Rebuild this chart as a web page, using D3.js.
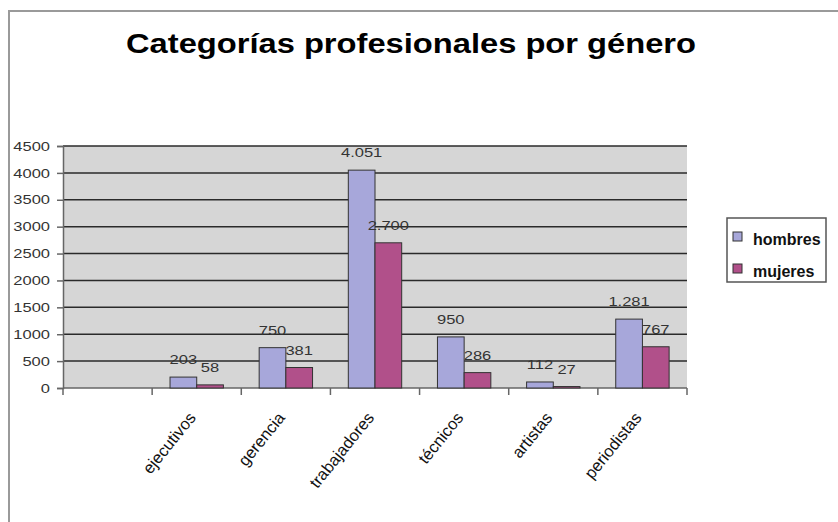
<!DOCTYPE html>
<html>
<head>
<meta charset="utf-8">
<script src="https://cdn.jsdelivr.net/npm/d3@7"></script>
<style>
body { margin: 0; background: #fff; }
text { font-family: Arial, "Liberation Sans", sans-serif; }
</style>
</head>
<body>
<div id="chart"></div>
<script>
// data (first slot is empty in the original)
var categories = ["", "ejecutivos", "gerencia", "trabajadores", "técnicos", "artistas", "periodistas"];
var seriesNames = ["hombres", "mujeres"];
var hombres = [null, 203, 750, 4051, 950, 112, 1281];
var mujeres = [null, 58, 381, 2700, 286, 27, 767];
var yTicks = [0, 500, 1000, 1500, 2000, 2500, 3000, 3500, 4000, 4500];
var colors = {hombres: "#a7a7da", mujeres: "#b1508a"};

var W = 838, H = 522;
var margin = {top: 146, left: 63, right: 151, bottom: 134};

var esLocale = d3.formatLocale({decimal: ",", thousands: ".", grouping: [3], currency: ["", " €"]});
var fmt = esLocale.format(",d");

// stretch text horizontally to match the (wide) look of the original
function stretch(sel, k) {
    sel.each(function () {
        var w = this.getComputedTextLength();
        d3.select(this).attr("textLength", w * k).attr("lengthAdjust", "spacingAndGlyphs");
    });
}

var svg = d3.select("#chart")
        .append("svg")
        .attr("width", W)
        .attr("height", H);

// outer frame (only top and left visible)
svg.append("path")
        .attr("d", "M9," + H + "V11H" + W)
        .attr("fill", "none")
        .attr("stroke", "#9a9a9a")
        .attr("stroke-width", 2);

// title
svg.append("text")
        .attr("x", 126)
        .attr("y", 53)
        .attr("font-size", 28)
        .attr("font-weight", "bold")
        .attr("fill", "#000")
        .attr("textLength", 570)
        .attr("lengthAdjust", "spacingAndGlyphs")
        .text("Categorías profesionales por género");

var x0 = d3.scaleBand()
        .domain(categories)
        .range([margin.left, W - margin.right]);

var x1 = d3.scaleBand()
        .domain(seriesNames)
        .range([0, x0.bandwidth()])
        .paddingOuter(0.67);

var y = d3.scaleLinear()
        .domain([0, 4500])
        .range([H - margin.bottom, margin.top]);

// plot background
svg.append("rect")
        .attr("x", margin.left)
        .attr("y", y(4500))
        .attr("width", W - margin.right - margin.left)
        .attr("height", y(0) - y(4500))
        .attr("fill", "#d6d6d6");

// grid lines
svg.selectAll(".grid")
        .data(yTicks.filter(function (d) { return d > 0; }))
        .enter()
        .append("line")
        .attr("x1", margin.left)
        .attr("x2", W - margin.right)
        .attr("y1", function (d) { return y(d); })
        .attr("y2", function (d) { return y(d); })
        .attr("stroke", "#2a2a2a")
        .attr("stroke-width", 1.5);

// y axis
var yAxis = svg.append("g")
        .attr("transform", "translate(" + margin.left + ",0)")
        .call(d3.axisLeft(y).tickValues(yTicks).tickSize(6).tickPadding(7).tickFormat(d3.format("d")));
yAxis.select(".domain").attr("stroke", "#666").attr("stroke-width", 1.5);
yAxis.selectAll(".tick line").attr("stroke", "#666").attr("stroke-width", 1.5);
yAxis.selectAll(".tick text")
        .attr("font-size", 13)
        .attr("fill", "#333")
        .call(stretch, 1.27);

// x axis: ticks between categories
var bounds = categories.map(function (c) { return x0(c); }).concat([W - margin.right]);
var xAxis = svg.append("g")
        .attr("transform", "translate(0," + y(0) + ")");
xAxis.append("line")
        .attr("x1", margin.left)
        .attr("x2", W - margin.right)
        .attr("stroke", "#666")
        .attr("stroke-width", 1.5);
xAxis.selectAll(".xtick")
        .data(bounds)
        .enter()
        .append("line")
        .attr("x1", function (d) { return d; })
        .attr("x2", function (d) { return d; })
        .attr("y1", 0)
        .attr("y2", 7)
        .attr("stroke", "#666")
        .attr("stroke-width", 1.5);

// category labels, rotated, ending under the middle of each category
var named = categories.filter(function (c) { return c !== ""; });
svg.selectAll(".catlabel")
        .data(named)
        .enter()
        .append("text")
        .attr("transform", function (d) {
            return "translate(" + (x0(d) + x0.bandwidth() / 2) + ",418) rotate(-51)";
        })
        .attr("text-anchor", "end")
        .attr("font-size", 16.5)
        .attr("fill", "#111")
        .text(function (d) { return d; });

// bars
var rows = categories.map(function (c, i) {
    return {cat: c, values: [{key: "hombres", value: hombres[i]}, {key: "mujeres", value: mujeres[i]}]};
}).filter(function (r) { return r.cat !== ""; });

var groups = svg.selectAll(".group")
        .data(rows)
        .enter()
        .append("g")
        .attr("transform", function (d) { return "translate(" + x0(d.cat) + ",0)"; });

groups.selectAll("rect")
        .data(function (d) { return d.values; })
        .enter()
        .append("rect")
        .attr("x", function (d) { return x1(d.key); })
        .attr("y", function (d) { return y(d.value); })
        .attr("width", x1.bandwidth())
        .attr("height", function (d) { return y(0) - y(d.value); })
        .attr("fill", function (d) { return colors[d.key]; })
        .attr("stroke", "#333")
        .attr("stroke-width", 1);

groups.selectAll(".val")
        .data(function (d) { return d.values; })
        .enter()
        .append("text")
        .attr("x", function (d) { return x1(d.key) + x1.bandwidth() / 2; })
        .attr("y", function (d) { return y(d.value) - 13; })
        .attr("text-anchor", "middle")
        .attr("font-size", 13)
        .attr("fill", "#333")
        .text(function (d) { return fmt(d.value); })
        .call(stretch, 1.27);

// legend
var legend = svg.append("g");
legend.append("rect")
        .attr("x", 727)
        .attr("y", 218)
        .attr("width", 99)
        .attr("height", 64)
        .attr("fill", "#fff")
        .attr("stroke", "#555")
        .attr("stroke-width", 1.5);

var items = legend.selectAll(".item")
        .data(seriesNames)
        .enter()
        .append("g")
        .attr("transform", function (d, i) { return "translate(733," + (232 + i * 32) + ")"; });
items.append("rect")
        .attr("width", 9)
        .attr("height", 9)
        .attr("fill", function (d) { return colors[d]; })
        .attr("stroke", "#333")
        .attr("stroke-width", 1);
items.append("text")
        .attr("x", 20)
        .attr("y", 13)
        .attr("font-size", 16)
        .attr("font-weight", "bold")
        .attr("fill", "#111")
        .text(function (d) { return d; });
</script>
</body>
</html>
